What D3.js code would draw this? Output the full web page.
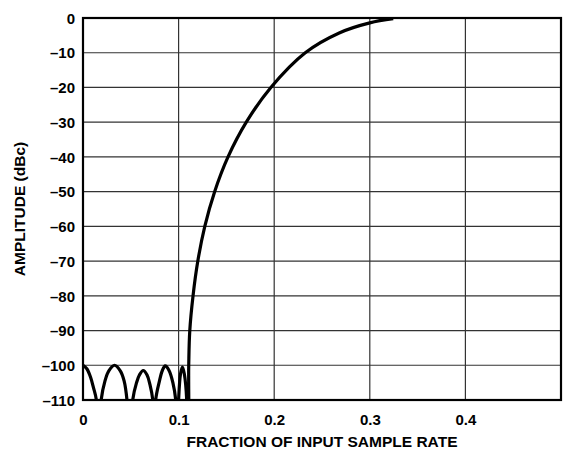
<!DOCTYPE html>
<html>
<meta charset="UTF-8">
<style>
body { margin: 0; background: #fff; }
svg { display: block; }
text { font-family: "Liberation Sans", Arial, sans-serif; font-weight: bold; fill: #000; }
.grid line { stroke: #333; stroke-width: 1.2px; }
</style>
<svg width="578" height="451"></svg>
<script src="https://d3js.org/d3.v7.min.js"></script>
<script>
// tick values
var xTicks = [0, 0.1, 0.2, 0.3, 0.4];
var yTicks = [0, -10, -20, -30, -40, -50, -60, -70, -80, -90, -100, -110];

// response: fraction of fs, amplitude in dBc
// (nulls dip under -110 and are clipped by the frame)
var freq = [0, 0.004, 0.008, 0.011, 0.014, 0.0165,
	0.019, 0.023, 0.027, 0.033, 0.039, 0.043, 0.046, 0.049,
	0.052, 0.056, 0.059, 0.063, 0.067, 0.070, 0.073, 0.0745,
	0.076, 0.080, 0.083, 0.086, 0.090, 0.094, 0.097, 0.0985,
	0.100, 0.102, 0.104, 0.106, 0.1085, 0.1092,
	0.1097, 0.1106, 0.1117, 0.1151, 0.1201, 0.1274, 0.1377, 0.1517,
	0.1708, 0.1965, 0.2325, 0.268, 0.30, 0.3245];
var amp = [-100, -101, -103.5, -106.5, -110, -125,
	-110, -104.5, -101.6, -100, -101.6, -104.5, -110, -125,
	-110, -105, -102.8, -101.5, -102.8, -105.5, -110, -125,
	-110, -104.5, -101.5, -100.2, -101.5, -105, -110, -125,
	-110, -102.5, -100.5, -102.5, -110, -125,
	-125, -100, -90, -80, -70, -60, -50, -40,
	-30, -20, -10, -4.3, -1.4, -0.2];

//	svg and plot box
var svg = d3.select("svg"),
	pl = 83, pr = 561, pt = 18, pb = 400;

var x = d3.scaleLinear().domain([0, 0.5]).range([pl, pr]);
var y = d3.scaleLinear().domain([0, -110]).range([pt, pb]);

//	grid
var grid = svg.append("g").attr("class", "grid");
grid.selectAll(".v").data(xTicks.slice(1)).enter().append("line")
	.attr("x1", function(d) { return x(d); })
	.attr("x2", function(d) { return x(d); })
	.attr("y1", pt).attr("y2", pb);
grid.selectAll(".h").data(yTicks.slice(1, -1)).enter().append("line")
	.attr("y1", function(d) { return y(d); })
	.attr("y2", function(d) { return y(d); })
	.attr("x1", pl).attr("x2", pr);

//	curve, clipped to the frame
svg.append("clipPath").attr("id", "clip").append("rect")
	.attr("x", pl).attr("y", pt - 2)
	.attr("width", pr - pl).attr("height", pb - pt + 2);

var line = d3.line()
	.x(function(d) { return x(d[0]); })
	.y(function(d) { return y(d[1]); })
	.curve(d3.curveCatmullRom.alpha(0.5));

svg.append("path")
	.datum(d3.zip(freq, amp))
	.attr("clip-path", "url(#clip)")
	.attr("fill", "none")
	.attr("stroke", "#000")
	.attr("stroke-width", 3.2)
	.attr("stroke-linejoin", "round")
	.attr("d", line);

//	frame
svg.append("rect")
	.attr("x", pl).attr("y", pt)
	.attr("width", pr - pl).attr("height", pb - pt)
	.attr("fill", "none").attr("stroke", "#000").attr("stroke-width", 2.2);

//	axes (labels only)
var fmt = function(d) { return d === 0 ? "0" : String(d).replace("-", "\u2013"); };

var yAxis = svg.append("g")
	.attr("transform", "translate(" + (pl - 6) + ",0)")
	.call(d3.axisLeft(y).tickValues(yTicks).tickSize(0).tickPadding(2).tickFormat(fmt));
yAxis.select(".domain").remove();
yAxis.selectAll("text").attr("font-size", 15).attr("dy", "0.35em");

var xAxis = svg.append("g")
	.attr("transform", "translate(0," + pb + ")")
	.call(d3.axisBottom(x).tickValues(xTicks).tickSize(0).tickPadding(14).tickFormat(function(d) { return d === 0 ? "0" : d3.format(".1f")(d); }));
xAxis.select(".domain").remove();
xAxis.selectAll("text").attr("font-size", 15);

svg.append("text")
	.attr("x", (pl + pr) / 2).attr("y", 447)
	.attr("text-anchor", "middle").attr("font-size", 15.5)
	.text("FRACTION OF INPUT SAMPLE RATE");

svg.append("text")
	.attr("transform", "translate(25," + (pt + pb) / 2 + ") rotate(-90)")
	.attr("text-anchor", "middle").attr("font-size", 15.5)
	.text("AMPLITUDE (dBc)");
</script>
